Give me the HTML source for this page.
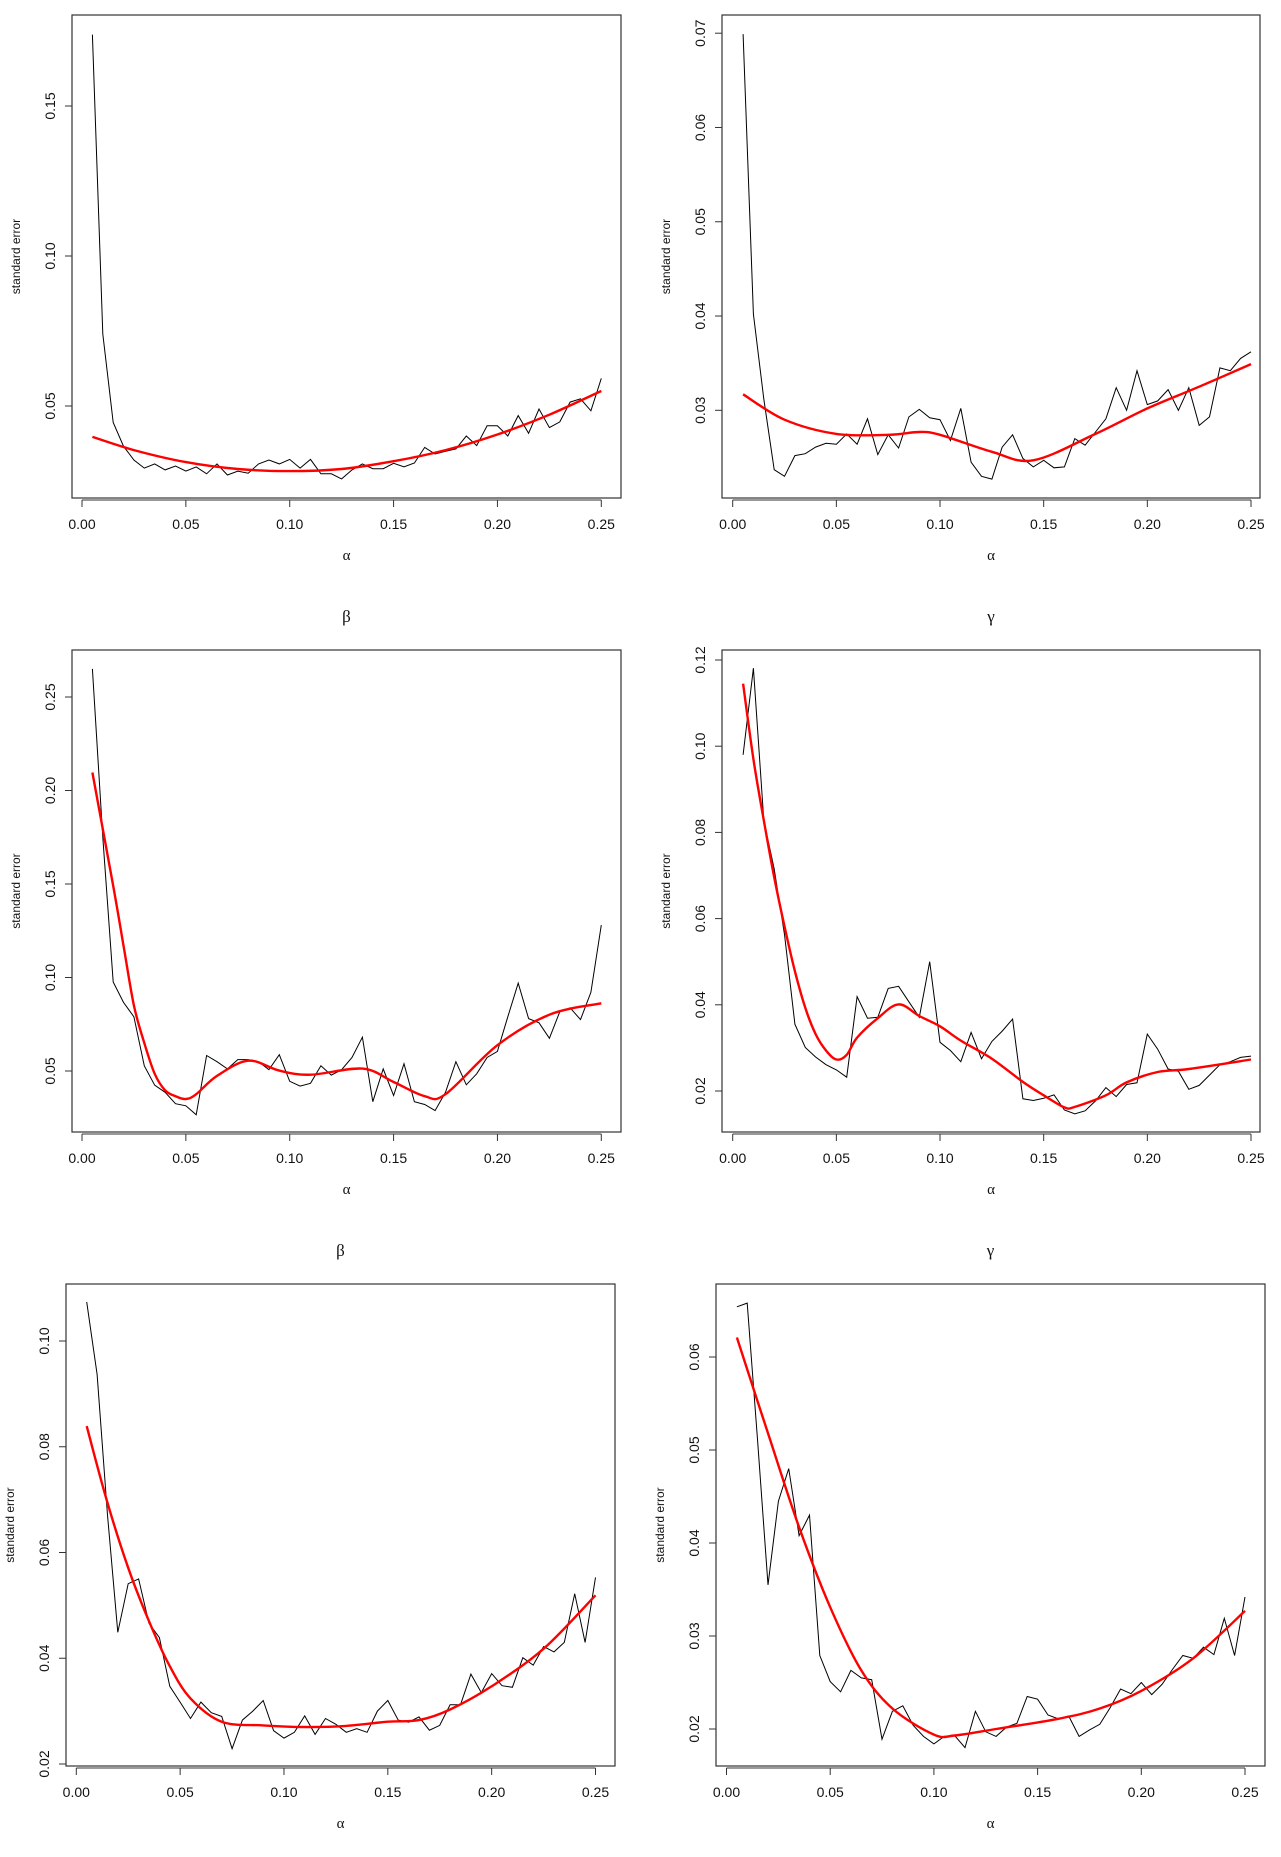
<!DOCTYPE html>
<html><head><meta charset="utf-8"><style>
html,body{margin:0;padding:0;background:#fff;}
svg{display:block;font-family:"Liberation Sans",sans-serif;}
</style></head><body>
<svg id="fig" width="1281" height="1857" viewBox="0 0 1281 1857" xmlns="http://www.w3.org/2000/svg"></svg>
<script>
const alphaGrid = [0.005,0.01,0.015,0.02,0.025,0.03,0.035,0.04,0.045,0.05,0.055,0.06,0.065,0.07,0.075,0.08,0.085,0.09,0.095,0.1,0.105,0.11,0.115,0.12,0.125,0.13,0.135,0.14,0.145,0.15,0.155,0.16,0.165,0.17,0.175,0.18,0.185,0.19,0.195,0.2,0.205,0.21,0.215,0.22,0.225,0.23,0.235,0.24,0.245,0.25];
const xTickLabels = ["0.00","0.05","0.10","0.15","0.20","0.25"];

const p1Black = [0.1738,0.074,0.0445,0.0366,0.032,0.0293,0.0307,0.0287,0.030,0.0283,0.0297,0.0274,0.0307,0.027,0.0283,0.0276,0.0307,0.032,0.0307,0.0322,0.0293,0.0322,0.0274,0.0274,0.0257,0.0287,0.0307,0.0291,0.0291,0.0309,0.0297,0.031,0.0362,0.034,0.0349,0.0357,0.040,0.0368,0.0434,0.0434,0.040,0.0468,0.0409,0.049,0.0428,0.0447,0.0513,0.0524,0.0484,0.0592];
const p1RedX = [0.005,0.025,0.05,0.075,0.1,0.125,0.15,0.175,0.2,0.225,0.25];
const p1RedY = [0.0397,0.0353,0.0313,0.029,0.0283,0.029,0.0316,0.0353,0.0405,0.0471,0.055];
const p1YTicks = ["0.05","0.10","0.15"];

const p2Black = [0.0699,0.0402,0.0312,0.0237,0.0230,0.0252,0.0254,0.0261,0.0265,0.0264,0.0275,0.0264,0.0291,0.0253,0.0274,0.0260,0.0293,0.0301,0.0292,0.029,0.0268,0.0302,0.0245,0.023,0.0227,0.0261,0.0274,0.0249,0.0240,0.0247,0.0239,0.024,0.027,0.0263,0.0277,0.0291,0.0324,0.030,0.0342,0.0306,0.031,0.0322,0.030,0.0324,0.0284,0.0293,0.0345,0.0342,0.0355,0.0362];
const p2RedX = [0.005,0.025,0.05,0.075,0.09,0.1,0.125,0.145,0.175,0.2,0.225,0.25];
const p2RedY = [0.0317,0.029,0.0275,0.0274,0.0277,0.0274,0.0256,0.0247,0.0275,0.0302,0.0325,0.0349];
const p2YTicks = ["0.03","0.04","0.05","0.06","0.07"];

const p3Black = [0.265,0.175,0.0976,0.0867,0.079,0.0528,0.0424,0.0386,0.0325,0.0314,0.0266,0.0583,0.055,0.0511,0.0561,0.0561,0.055,0.0507,0.0587,0.0445,0.0419,0.0434,0.0528,0.0478,0.0507,0.0572,0.0681,0.0336,0.0511,0.0369,0.0539,0.0336,0.0321,0.0288,0.0386,0.055,0.0426,0.0485,0.0572,0.0605,0.079,0.097,0.078,0.0758,0.0675,0.0817,0.0838,0.0775,0.0921,0.128];
const p3RedX = [0.005,0.015,0.02,0.025,0.03,0.035,0.04,0.045,0.05,0.055,0.065,0.08,0.095,0.11,0.135,0.15,0.165,0.175,0.2,0.225,0.25];
const p3RedY = [0.2096,0.149,0.117,0.085,0.065,0.0485,0.0397,0.0365,0.035,0.0376,0.0474,0.0555,0.0502,0.048,0.0513,0.0441,0.0365,0.0376,0.0638,0.0801,0.0862];
const p3YTicks = ["0.05","0.10","0.15","0.20","0.25"];

const p4Black = [0.098,0.1181,0.0828,0.0715,0.0563,0.0355,0.0301,0.0279,0.0261,0.0249,0.0232,0.0419,0.0369,0.0371,0.0438,0.0443,0.0407,0.0371,0.05,0.0313,0.0294,0.0268,0.0336,0.0275,0.0315,0.0339,0.0367,0.0182,0.0178,0.0183,0.0191,0.0156,0.0147,0.0154,0.0177,0.0208,0.0187,0.0215,0.0219,0.0332,0.0297,0.0251,0.0246,0.0204,0.0213,0.0237,0.0261,0.0268,0.0278,0.0281];
const p4RedX = [0.005,0.01,0.015,0.02,0.025,0.03,0.035,0.04,0.045,0.05,0.055,0.06,0.07,0.08,0.09,0.1,0.11,0.125,0.14,0.15,0.16,0.165,0.18,0.19,0.205,0.22,0.25];
const p4RedY = [0.1145,0.097,0.0828,0.0696,0.0582,0.0478,0.0393,0.0332,0.0294,0.0273,0.0284,0.0324,0.0369,0.0401,0.0374,0.035,0.0317,0.0275,0.0221,0.019,0.0162,0.0163,0.019,0.022,0.0244,0.0251,0.0273];
const p4YTicks = ["0.02","0.04","0.06","0.08","0.10","0.12"];

const p5Black = [0.1074,0.0937,0.0671,0.0449,0.0541,0.055,0.0466,0.0439,0.0347,0.0317,0.0286,0.0317,0.0297,0.029,0.0229,0.0283,0.03,0.032,0.0263,0.0249,0.026,0.0291,0.0256,0.0286,0.0275,0.026,0.0267,0.026,0.03,0.032,0.0283,0.0279,0.0289,0.0264,0.0273,0.0312,0.0312,0.037,0.0335,0.0371,0.0348,0.0345,0.0401,0.0387,0.0422,0.0412,0.043,0.0522,0.043,0.0553];
const p5RedX = [0.005,0.015,0.025,0.035,0.045,0.055,0.07,0.09,0.11,0.13,0.15,0.165,0.18,0.2,0.225,0.25];
const p5RedY = [0.0839,0.0694,0.0571,0.047,0.0385,0.0324,0.028,0.0273,0.027,0.0272,0.028,0.0283,0.0303,0.0347,0.0418,0.0519];
const p5YTicks = ["0.02","0.04","0.06","0.08","0.10"];

const p6Black = [0.0654,0.0658,0.051,0.0355,0.0445,0.048,0.0408,0.043,0.0279,0.0251,0.024,0.0263,0.0255,0.0253,0.0189,0.0219,0.0225,0.0204,0.0192,0.0184,0.0192,0.0193,0.018,0.0219,0.0197,0.0192,0.0202,0.0206,0.0235,0.0232,0.0215,0.0211,0.0214,0.0192,0.0199,0.0205,0.0223,0.0243,0.0238,0.025,0.0237,0.0248,0.0264,0.0279,0.0276,0.0288,0.028,0.0319,0.0279,0.0342];
const p6RedX = [0.005,0.02,0.035,0.05,0.065,0.08,0.1,0.11,0.13,0.16,0.18,0.2,0.225,0.25];
const p6RedY = [0.0621,0.0518,0.0417,0.0331,0.0263,0.0222,0.0194,0.0193,0.02,0.0211,0.0222,0.0241,0.0276,0.0327];
const p6YTicks = ["0.02","0.03","0.04","0.05","0.06"];

const NS = "http://www.w3.org/2000/svg";
const fig = document.getElementById('fig');
function mk(tag, attrs, parent){ const e=document.createElementNS(NS,tag); for(const k in attrs) e.setAttribute(k,attrs[k]); (parent||fig).appendChild(e); return e; }

function smoothPath(pts){
  let d = "M"+pts[0][0].toFixed(1)+","+pts[0][1].toFixed(1);
  for(let i=0;i<pts.length-1;i++){
    const p0=pts[Math.max(0,i-1)], p1=pts[i], p2=pts[i+1], p3=pts[Math.min(pts.length-1,i+2)];
    const c1=[p1[0]+(p2[0]-p0[0])/6, p1[1]+(p2[1]-p0[1])/6];
    const c2=[p2[0]-(p3[0]-p1[0])/6, p2[1]-(p3[1]-p1[1])/6];
    d+=" C"+c1[0].toFixed(1)+","+c1[1].toFixed(1)+" "+c2[0].toFixed(1)+","+c2[1].toFixed(1)+" "+p2[0].toFixed(1)+","+p2[1].toFixed(1);
  }
  return d;
}

function panel(cfg){
  const g = mk('g',{});
  
  
  const X = v => cfg.x0 + (cfg.x1 - cfg.x0) * v / 0.25;
  const Y = v => cfg.ya + (cfg.yb - cfg.ya) * (v - cfg.va) / (cfg.vb - cfg.va);
  const box = mk('rect',{x:cfg.L,y:cfg.T,width:cfg.R-cfg.L,height:cfg.B-cfg.T,fill:'none',stroke:'#333','stroke-width':1.2},g);
  
  
  const xa = mk('g',{},g);
  
  
  const ay = cfg.B+2;
  mk('line',{x1:X(0),x2:X(0.25),y1:ay,y2:ay,stroke:'#333','stroke-width':1},xa);
  xTickLabels.forEach(t=>{
    const v=parseFloat(t);
    mk('line',{x1:X(v),x2:X(v),y1:ay,y2:ay+7,stroke:'#333','stroke-width':1},xa);
    const tx=mk('text',{x:X(v),y:cfg.B+31,'font-size':14,'text-anchor':'middle',fill:'#111'},xa);
    tx.textContent=t;
    
    
  });
  const xl=mk('text',{x:(cfg.L+cfg.R)/2,y:cfg.B+62,'font-size':15,'text-anchor':'middle',fill:'#111','font-family':'"Liberation Serif",serif'},g);
  xl.textContent='α';
  
  
  const ya = mk('g',{},g);
  
  
  const vs=cfg.yticks.map(parseFloat);
  mk('line',{x1:cfg.L,x2:cfg.L,y1:Y(vs[0]),y2:Y(vs[vs.length-1]),stroke:'#333','stroke-width':1},ya);
  cfg.yticks.forEach(t=>{
    const v=parseFloat(t), y=Y(v);
    mk('line',{x1:cfg.L,x2:cfg.L-7,y1:y,y2:y,stroke:'#333','stroke-width':1},ya);
    const cx=cfg.L-22;
    const tx=mk('text',{x:cx,y:y,'font-size':14,'text-anchor':'middle','dominant-baseline':'central',fill:'#111',transform:`rotate(-90 ${cx} ${y})`},ya);
    tx.textContent=t;
    
    
  });
  const tx0=cfg.L-56, ty0=(cfg.T+cfg.B)/2;
  const yl=mk('text',{x:tx0,y:ty0,'font-size':12,'text-anchor':'middle','dominant-baseline':'central',fill:'#111',transform:`rotate(-90 ${tx0} ${ty0})`},g);
  yl.textContent='standard error';
  
  
  if(cfg.title){
    const tt=mk('text',{x:(cfg.L+cfg.R)/2,y:cfg.T-28,'font-size':17,'text-anchor':'middle',fill:'#111','font-family':'"Liberation Serif","DejaVu Serif",serif'},g);
    tt.textContent=cfg.title;
    
    
  }
  const bp = alphaGrid.map((a,i)=>X(a).toFixed(1)+","+Y(cfg.black[i]).toFixed(1)).join(" ");
  const bl=mk('polyline',{points:bp,fill:'none',stroke:'#000','stroke-width':1},g);
  
  
  const rp = cfg.redX.map((a,i)=>[X(a),Y(cfg.redY[i])]);
  const rl=mk('path',{d:smoothPath(rp),fill:'none',stroke:'#ff0000','stroke-width':2.4},g);
  
  
}

panel({name:'panel-top-left',L:72,T:15,R:621,B:498,x0:82,x1:601.3,va:0.15,ya:106,vb:0.05,yb:406,yticks:p1YTicks,black:p1Black,redX:p1RedX,redY:p1RedY,title:null});
panel({name:'panel-top-right',L:722,T:15,R:1260,B:498,x0:732.7,x1:1251,va:0.07,ya:33.2,vb:0.03,yb:410.3,yticks:p2YTicks,black:p2Black,redX:p2RedX,redY:p2RedY,title:null});
panel({name:'panel-middle-left',L:72,T:650,R:621,B:1132,x0:82,x1:601.3,va:0.25,ya:697,vb:0.05,yb:1071,yticks:p3YTicks,black:p3Black,redX:p3RedX,redY:p3RedY,title:'β'});
panel({name:'panel-middle-right',L:722,T:650,R:1260,B:1132,x0:732.7,x1:1251,va:0.12,ya:660,vb:0.02,yb:1091,yticks:p4YTicks,black:p4Black,redX:p4RedX,redY:p4RedY,title:'γ'});
panel({name:'panel-bottom-left',L:66,T:1284,R:615,B:1766,x0:76.3,x1:595.5,va:0.10,ya:1341,vb:0.02,yb:1764,yticks:p5YTicks,black:p5Black,redX:p5RedX,redY:p5RedY,title:'β'});
panel({name:'panel-bottom-right',L:716,T:1284,R:1265,B:1766,x0:726.5,x1:1245,va:0.06,ya:1357,vb:0.02,yb:1729,yticks:p6YTicks,black:p6Black,redX:p6RedX,redY:p6RedY,title:'γ'});
</script>
</body></html>
